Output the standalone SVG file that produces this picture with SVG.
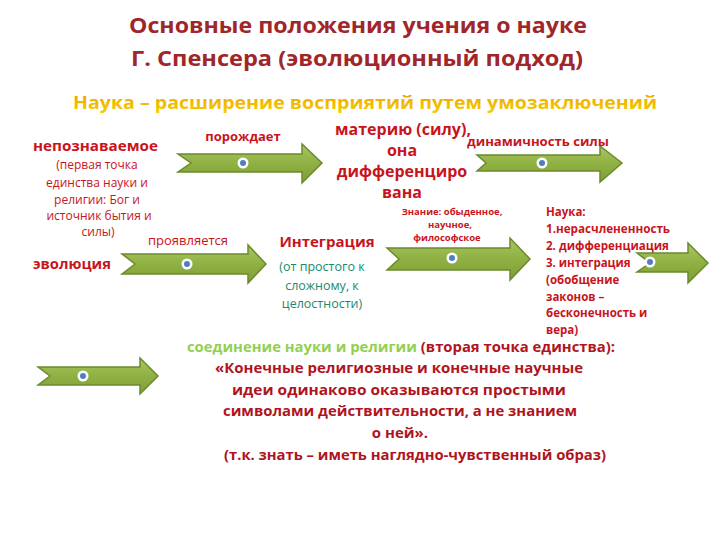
<svg xmlns="http://www.w3.org/2000/svg" width="720" height="540" viewBox="0 0 720 540">
<defs>
<linearGradient id="gArrow" x1="0" y1="0" x2="0" y2="1">
<stop offset="0" stop-color="#a9c764"/>
<stop offset="0.5" stop-color="#8fb042"/>
<stop offset="1" stop-color="#7f9f38"/>
</linearGradient>
<linearGradient id="gGold" x1="0" y1="0" x2="0" y2="1">
<stop offset="0" stop-color="#f0a000"/>
<stop offset="1" stop-color="#f3d000"/>
</linearGradient>
<g id="dot"><circle r="5.5" fill="#ffffff"/><circle r="3" fill="#4f7fc0"/></g>
</defs>
<style>
text{font-family:"Open Sans","Liberation Sans",sans-serif;}
.title{font-size:22px;font-weight:bold;fill:#a0262a;text-anchor:middle;}
.sub{font-size:17px;font-weight:bold;fill:url(#gGold);text-anchor:middle;}
.rb{font-weight:bold;fill:#c8141c;}
.rn{fill:#c8141c;}
.teal{fill:#1a8a6a;}
.mid{text-anchor:middle;}
.arrow{fill:url(#gArrow);stroke:#6b8a2c;stroke-width:1.5;stroke-linejoin:miter;}
.dk{font-weight:bold;fill:#b01420;text-anchor:middle;font-size:15px;}
</style>
<rect width="720" height="540" fill="#ffffff"/>

<g id="title">
<text class="title" x="358" y="33" textLength="458" lengthAdjust="spacingAndGlyphs">Основные положения учения о науке</text>
<text class="title" x="357" y="66" textLength="452" lengthAdjust="spacingAndGlyphs">Г. Спенсера (эволюционный подход)</text>
</g>
<g id="subtitle">
<text class="sub" x="365" y="109" textLength="584" lengthAdjust="spacingAndGlyphs">Наука – расширение восприятий путем умозаключений</text>
</g>

<g id="connectors">
<path class="arrow" d="M178,154 L302,154 L302,144 L322,163 L302,183 L302,172 L178,172 L191,163 Z"/>
<path class="arrow" d="M477,155 L600,155 L600,146 L622,163 L600,182 L600,171 L477,171 L486,163 Z"/>
<path class="arrow" d="M122,254 L248,254 L248,245 L266,264 L248,283 L248,274 L122,274 L135,264 Z"/>
<path class="arrow" d="M387,248 L510,248 L510,238 L530,259 L510,280 L510,270 L387,270 L399,259 Z"/>
<path class="arrow" d="M637,253 L688,253 L688,243 L708,263 L688,283 L688,272 L637,272 L650,263 Z"/>
<path class="arrow" d="M38,367 L140,367 L140,358 L158,376 L140,394 L140,385 L38,385 L50,376 Z"/>
<use href="#dot" x="243" y="163"/>
<use href="#dot" x="542" y="163"/>
<use href="#dot" x="187" y="264"/>
<use href="#dot" x="452" y="258"/>
<use href="#dot" x="650" y="262"/>
<use href="#dot" x="83" y="376"/>
</g>

<g id="node-unknowable">
<text class="rb" x="33" y="151" font-size="15" textLength="125" lengthAdjust="spacingAndGlyphs">непознаваемое</text>
<text class="rn mid" x="97" y="169" font-size="12">(первая точка</text>
<text class="rn mid" x="97" y="187" font-size="12">единства науки и</text>
<text class="rn mid" x="97" y="204" font-size="12">религии: Бог и</text>
<text class="rn mid" x="99" y="220" font-size="12">источник  бытия и</text>
<text class="rn mid" x="98" y="236" font-size="12">силы)</text>
</g>
<g id="label-generates">
<text class="rb mid" x="243" y="141" font-size="13">порождает</text>
</g>
<g id="node-matter">
<text class="rb mid" x="403" y="135" font-size="16">материю (силу),</text>
<text class="rb mid" x="402" y="156" font-size="16">она</text>
<text class="rb mid" x="402" y="177" font-size="16">дифференциро</text>
<text class="rb mid" x="402" y="198" font-size="16">вана</text>
</g>
<g id="label-dynamics">
<text class="rb mid" x="538" y="146" font-size="13" textLength="142" lengthAdjust="spacingAndGlyphs">динамичность силы</text>
</g>
<g id="label-manifests">
<text class="rn mid" x="188" y="245" font-size="13">проявляется</text>
</g>
<g id="node-evolution">
<text class="rb" x="33" y="269" font-size="15" textLength="78" lengthAdjust="spacingAndGlyphs">эволюция</text>
</g>
<g id="node-integration">
<text class="rb mid" x="327" y="247" font-size="15">Интеграция</text>
<text class="teal mid" x="322" y="271" font-size="12.5">(от простого к</text>
<text class="teal mid" x="322" y="290" font-size="12.5">сложному, к</text>
<text class="teal mid" x="322" y="308" font-size="12.5">целостности)</text>
</g>
<g id="label-knowledge">
<text class="rb mid" x="452" y="215" font-size="9.5">Знание: обыденное,</text>
<text class="rb mid" x="450" y="228" font-size="9.5">научное,</text>
<text class="rb mid" x="447" y="241" font-size="9.5">философское</text>
</g>
<g id="node-science">
<text class="rb" x="546" y="216" font-size="11.5">Наука:</text>
<text class="rb" x="546" y="233" font-size="11.5" textLength="124" lengthAdjust="spacingAndGlyphs">1.нерасчлененность</text>
<text class="rb" x="546" y="250" font-size="11.5" textLength="123" lengthAdjust="spacingAndGlyphs">2. дифференциация</text>
<text class="rb" x="546" y="267" font-size="11.5">3. интеграция</text>
<text class="rb" x="546" y="284" font-size="11.5">(обобщение</text>
<text class="rb" x="546" y="301" font-size="11.5">законов –</text>
<text class="rb" x="546" y="317" font-size="11.5">бесконечность и</text>
<text class="rb" x="546" y="334" font-size="11.5">вера)</text>
</g>
<g id="node-union">
<text class="dk" x="401" y="352" textLength="428" lengthAdjust="spacingAndGlyphs"><tspan fill="#92d050">соединение науки и религии</tspan> (вторая точка единства):</text>
<text class="dk" x="399" y="373" textLength="368" lengthAdjust="spacingAndGlyphs">«Конечные религиозные и конечные научные</text>
<text class="dk" x="399" y="395" textLength="334" lengthAdjust="spacingAndGlyphs">идеи одинаково оказываются простыми</text>
<text class="dk" x="400" y="416" textLength="354" lengthAdjust="spacingAndGlyphs">символами действительности, а не знанием</text>
<text class="dk" x="400" y="438">о ней».</text>
<text class="dk" x="415" y="460" textLength="382" lengthAdjust="spacingAndGlyphs">(т.к. знать – иметь наглядно-чувственный образ)</text>
</g>
</svg>
